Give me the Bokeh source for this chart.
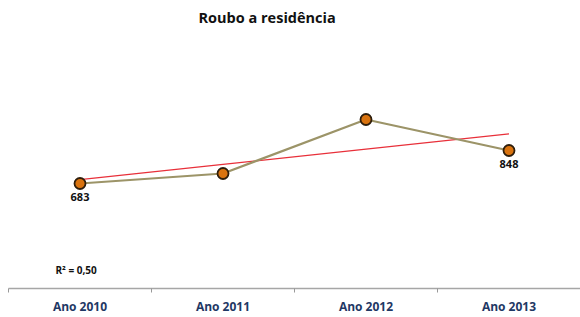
from bokeh.plotting import figure
from bokeh.models import Range1d, FixedTicker, Label, ColumnDataSource
from bokeh.core.properties import value
from bokeh.embed import file_html
from bokeh.resources import INLINE
import numpy as np

years = ["Ano 2010", "Ano 2011", "Ano 2012", "Ano 2013"]
values = [683, 733, 1003, 848]
shown_labels = ["683", "", "", "848"]
r2_text = "R² = 0,50"
title_text = "Roubo a residência"

xs = [i + 0.5 for i in range(len(years))]
coef = np.polyfit(range(len(values)), values, 1)
trend = [coef[0] * i + coef[1] for i in range(len(values))]

p = figure(frame_width=572, frame_height=257, output_backend="svg", toolbar_location=None,
           x_range=Range1d(0, len(years)), y_range=Range1d(158, 1443),
           y_axis_location=None, min_border_left=8, min_border_right=0,
           min_border_top=0, min_border_bottom=0)
p.title.text = title_text
p.title.align = "left"
p.title.offset = 190
p.title.text_font = "Open Sans"
p.title.text_font_size = "14.5px"
p.title.text_font_style = "bold"
p.title.text_color = "#111111"
p.title.standoff = 10
p.outline_line_color = None
p.grid.visible = False

ax = p.xaxis[0]
ax.ticker = FixedTicker(ticks=xs, minor_ticks=list(range(len(years) + 1)))
ax.major_label_overrides = {x: y for x, y in zip(xs, years)}
ax.major_tick_in = 0
ax.major_tick_out = 0
ax.minor_tick_in = 0
ax.minor_tick_out = 4
ax.minor_tick_line_color = "#999999"
ax.axis_line_color = "#A6A6A6"
ax.axis_line_width = 1.5
ax.major_label_text_font = "Open Sans"
ax.major_label_text_font_style = "bold"
ax.major_label_text_font_size = "12px"
ax.major_label_text_color = "#1F3864"
ax.major_label_standoff = 5

p.line(xs, trend, line_color="#E8303A", line_width=1.2)
p.line(xs, values, line_color="#9C9468", line_width=2.2)
p.scatter(xs, values, size=11, fill_color="#D9730F", line_color="#2E1E0C", line_width=1.8)

src = ColumnDataSource(dict(x=xs, y=values, t=shown_labels))
p.text(x="x", y="y", text="t", source=src, text_align="center", text_baseline="top",
       y_offset=9, text_font=value("Open Sans"), text_font_style="bold",
       text_font_size="11px", text_color="#111111")

p.add_layout(Label(x=47, y=12, x_units="screen", y_units="screen", text=r2_text,
                   text_font="Open Sans", text_font_style="bold", text_font_size="10px",
                   text_color="#111111"))

open("out.html", "w").write(file_html(p, INLINE))
